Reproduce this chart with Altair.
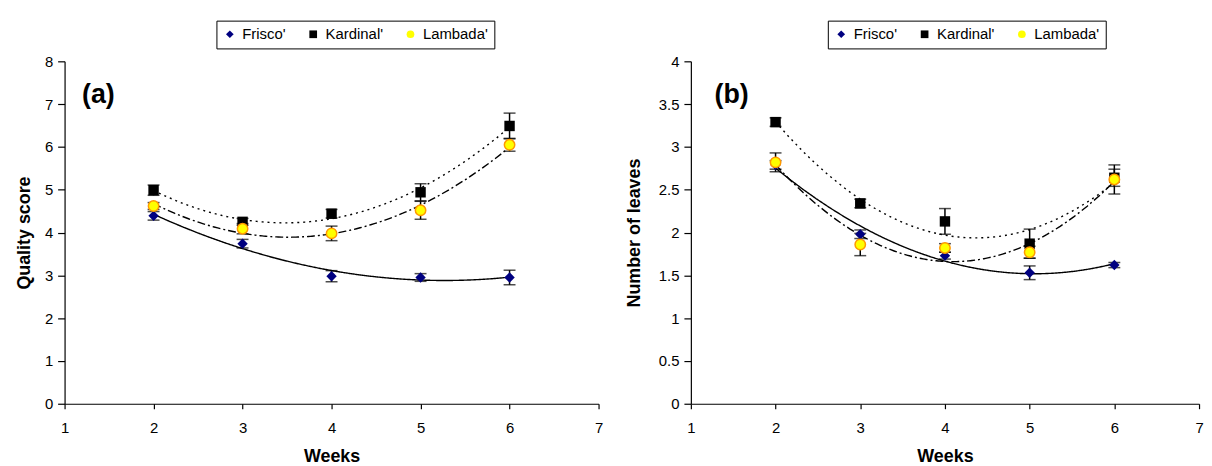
import altair as alt
import pandas as pd

weeks = [2, 3, 4, 5, 6]
varieties = ["Frisco'", "Kardinal'", "Lambada'"]

# Panel (a): Quality score
a_frisco = [4.39, 3.74, 2.98, 2.95, 2.95]
a_frisco_err = [0.10, 0.10, 0.13, 0.09, 0.17]
a_kardinal = [4.99, 4.25, 4.44, 4.94, 6.49]
a_kardinal_err = [0.12, 0.08, 0.10, 0.20, 0.30]
a_lambada = [4.62, 4.09, 3.98, 4.52, 6.05]
a_lambada_err = [0.08, 0.12, 0.17, 0.21, 0.15]

# Panel (b): Number of leaves
b_frisco = [2.79, 1.98, 1.73, 1.53, 1.62]
b_frisco_err = [0.05, 0.05, 0.04, 0.08, 0.03]
b_kardinal = [3.29, 2.34, 2.13, 1.87, 2.64]
b_kardinal_err = [0.05, 0.05, 0.15, 0.17, 0.10]
b_lambada = [2.82, 1.86, 1.82, 1.77, 2.62]
b_lambada_err = [0.11, 0.13, 0.05, 0.07, 0.17]

fill_colors = ["#000080", "#000000", "#FFFF00"]
outline_colors = ["#000080", "#000000", "#FF9900"]
shapes = ["diamond", "square", "circle"]
dashes = [[1, 0], [2, 4], [8, 3, 2, 3]]

FONT = "Liberation Sans"


def make_df(series, errs):
    rows = []
    for name, vals, es in zip(varieties, series, errs):
        for w, v, e in zip(weeks, vals, es):
            rows.append({"week": w, "value": v, "lo": v - e, "hi": v + e, "variety": name})
    return pd.DataFrame(rows)


def panel(df, ymax, ystep, ytitle, label, legend_x, width, label_x, ytitle_pad):
    base = alt.Chart(df)
    x = alt.X("week:Q", scale=alt.Scale(domain=[1, 7], nice=False, zero=False),
              axis=alt.Axis(title="Weeks", values=[1, 2, 3, 4, 5, 6, 7], format="d",
                            tickSize=5, labelPadding=12, titlePadding=12, labelFlush=False))
    yvals = []
    v = 0.0
    while v <= ymax + 1e-9:
        yvals.append(round(v, 2))
        v += ystep
    y = alt.Y("value:Q", scale=alt.Scale(domain=[0, ymax], nice=False),
              axis=alt.Axis(title=ytitle, values=yvals, format="~g", tickSize=7,
                            labelPadding=5, titlePadding=ytitle_pad))
    leg = alt.Legend(title=None, orient="none", legendX=legend_x, legendY=-41,
                     direction="horizontal", strokeColor="#000000", fillColor="#ffffff",
                     padding=6, symbolSize=60, labelFont=FONT,
                     labelFontSize=15, labelColor="#000000", columnPadding=20, labelOffset=5)
    layers = []
    for name, dash in zip(varieties, dashes):
        layers.append(
            base.transform_filter(alt.FieldEqualPredicate(field="variety", equal=name))
            .transform_regression("week", "value", method="poly", order=2, extent=[2, 6])
            .mark_line(color="#000000", strokeWidth=1.4, strokeDash=dash)
            .encode(x=x, y=y)
        )
    layers.append(base.mark_rule(color="#000000", strokeWidth=1.5).encode(
        x="week:Q", y="lo:Q", y2="hi:Q"))
    for fld in ["hi", "lo"]:
        layers.append(base.mark_tick(color="#000000", orient="horizontal", size=12,
                                     thickness=1.5).encode(x="week:Q", y=f"{fld}:Q"))
    layers.append(base.mark_point(filled=True, size=110, opacity=1).encode(
        x="week:Q", y="value:Q",
        color=alt.Color("variety:N", scale=alt.Scale(domain=varieties, range=fill_colors), legend=leg),
        shape=alt.Shape("variety:N", scale=alt.Scale(domain=varieties, range=shapes), legend=leg),
    ))
    # orange outline of the Lambada' circles
    layers.append(
        base.transform_filter(alt.FieldEqualPredicate(field="variety", equal=varieties[2]))
        .mark_point(filled=False, shape="circle", size=110, stroke=outline_colors[2],
                    strokeWidth=1.5, opacity=1)
        .encode(x="week:Q", y="value:Q")
    )
    layers.append(alt.Chart(pd.DataFrame({"t": [label]})).mark_text(
        font=FONT, fontSize=27, fontWeight="bold", color="#000000", align="center", baseline="middle"
    ).encode(text="t:N", x=alt.value(label_x), y=alt.value(34)))
    return alt.layer(*layers).properties(width=width, height=345)


dfa = make_df([a_frisco, a_kardinal, a_lambada], [a_frisco_err, a_kardinal_err, a_lambada_err])
dfb = make_df([b_frisco, b_kardinal, b_lambada], [b_frisco_err, b_kardinal_err, b_lambada_err])

pa = panel(dfa, 8, 1, "Quality score", "(a)", 153, 538, 34, 11)
pb = panel(dfb, 4, 0.5, "Number of leaves", "(b)", 138, 512, 41, 15)

chart = alt.hconcat(pa, pb, spacing=22).resolve_scale(
    color="independent", shape="independent"
).properties(
    padding={"left": 7, "top": 10, "right": 0, "bottom": 0},
    background="#ffffff",
).configure_view(stroke=None).configure_axis(
    grid=False, domainColor="#000000", tickColor="#000000", labelColor="#000000",
    titleColor="#000000", labelFont=FONT, labelFontSize=15, titleFont=FONT,
    titleFontSize=18, titleFontWeight="bold", domainWidth=1.2, tickWidth=1.2
)

chart.save("out.html", embed_options={"renderer": "svg", "actions": False})
